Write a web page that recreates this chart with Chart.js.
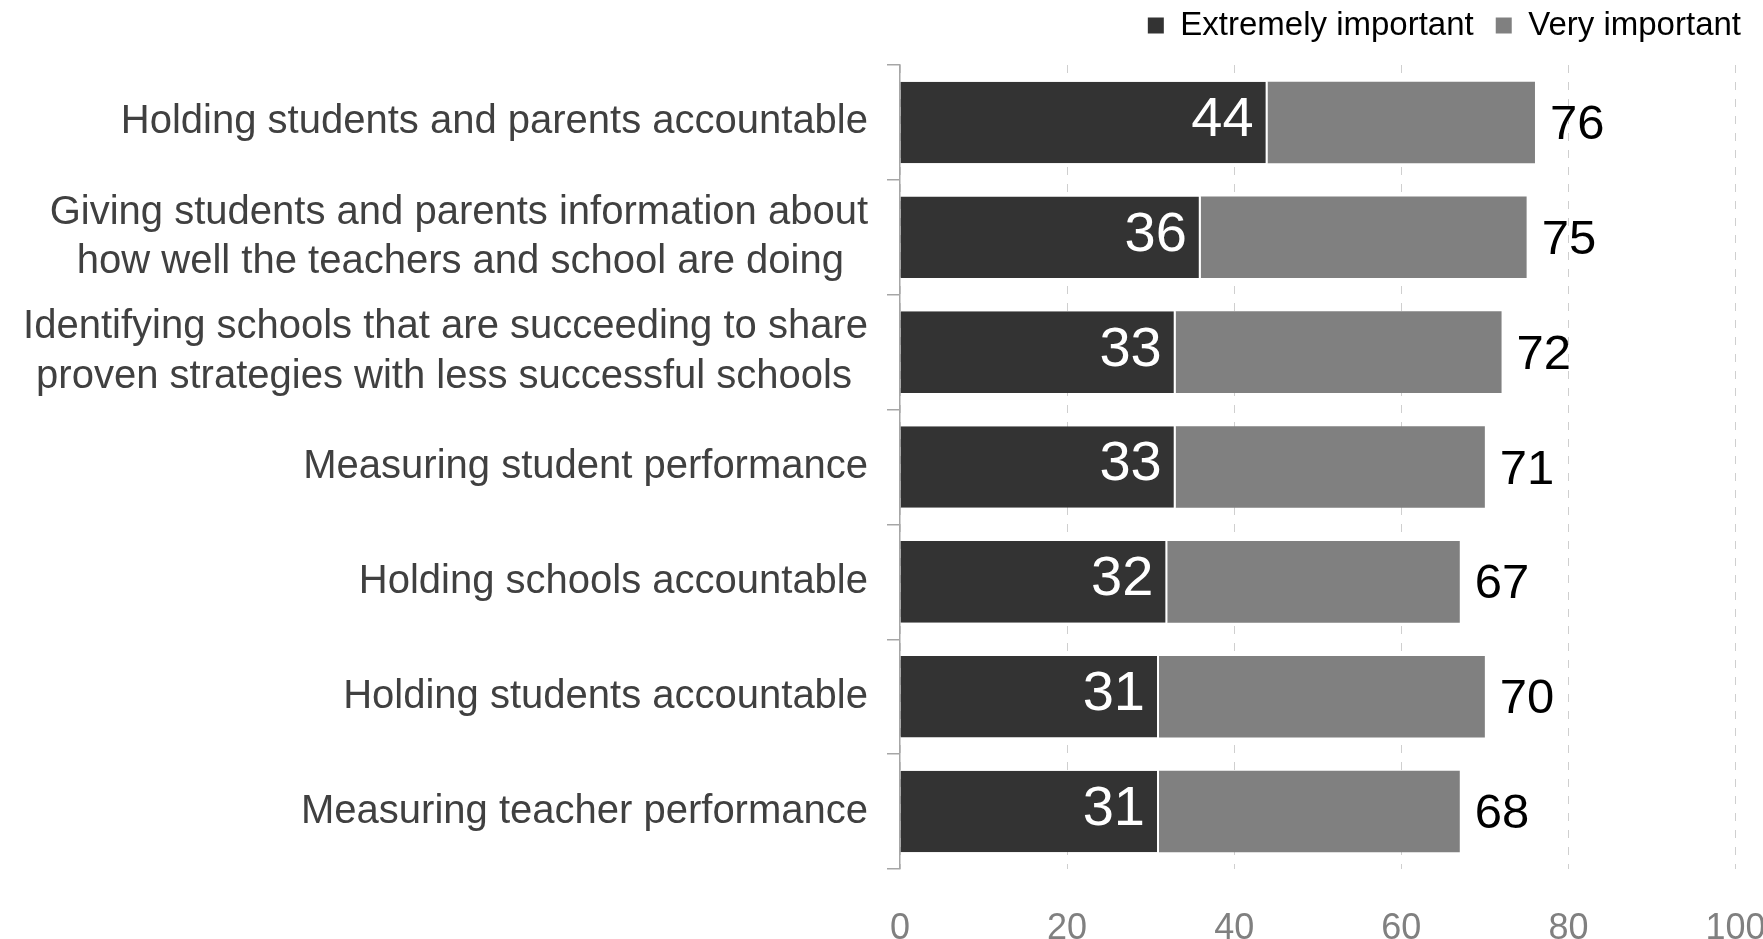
<!DOCTYPE html>
<html><head><meta charset="utf-8">
<script src="https://cdn.jsdelivr.net/npm/chart.js@4.4.0/dist/chart.umd.min.js"></script>
<style>html,body{margin:0;padding:0;background:#fff;overflow:hidden}#wrap{width:1763px;height:939px;position:relative}</style>
</head><body><div id="wrap"><canvas id="c"></canvas></div>
<script>
const categories = [
  "Holding students and parents accountable",
  ["Giving students and parents information about", "how well the teachers and school are doing"],
  ["Identifying schools that are succeeding to share", "proven strategies with less successful schools"],
  "Measuring student performance",
  "Holding schools accountable",
  "Holding students accountable",
  "Measuring teacher performance"
];
const seriesNames = ["Extremely important", "Very important"];
const extremelyImportant = [44, 36, 33, 33, 32, 31, 31];
const veryImportant = [32, 39, 39, 37, 35, 39, 36];
const totalLabels = [76, 75, 72, 71, 67, 70, 68];
const xTickValues = [0, 20, 40, 60, 80, 100];

const FAMILY = '"Liberation Sans", Arial, Helvetica, sans-serif';
const CAT_SIZE = 40;

const measureCtx = document.createElement('canvas').getContext('2d');
function centerLines(lbl) {
  if (!Array.isArray(lbl)) return lbl;
  measureCtx.font = CAT_SIZE + 'px ' + FAMILY;
  const widths = lbl.map(s => measureCtx.measureText(s).width);
  const maxW = Math.max(...widths);
  let pad = '\u2009';
  let sp = measureCtx.measureText(pad).width;
  if (!(sp > 0.5)) { pad = ' '; sp = measureCtx.measureText(pad).width; }
  return lbl.map((s, i) => {
    const n = Math.round((maxW - widths[i]) / 2 / sp);
    return s + pad.repeat(Math.max(0, Math.min(n, 40)));
  });
}

const valueLabels = {
  id: 'valueLabels',
  afterDatasetsDraw(chart) {
    const ctx = chart.ctx;
    const m0 = chart.getDatasetMeta(0), m1 = chart.getDatasetMeta(1);
    ctx.save();
    ctx.textBaseline = 'middle';
    ctx.font = '56px ' + FAMILY;
    ctx.fillStyle = '#ffffff';
    ctx.textAlign = 'right';
    m0.data.forEach((bar, i) => ctx.fillText(String(extremelyImportant[i]), bar.x - 14, bar.y - 2));
    ctx.font = '49px ' + FAMILY;
    ctx.fillStyle = '#000000';
    ctx.textAlign = 'left';
    m1.data.forEach((bar, i) => ctx.fillText(String(totalLabels[i]), bar.x + 15, bar.y + 3));
    ctx.restore();
  }
};

const legendShift = {
  id: 'legendShift',
  afterLayout(chart) {
    if (chart.legend) { chart.legend.top -= 13; chart.legend.bottom -= 13; }
  }
};

new Chart(document.getElementById('c'), {
  type: 'bar',
  data: {
    labels: categories,
    datasets: [
      {
        label: seriesNames[0],
        data: extremelyImportant,
        backgroundColor: '#333333',
        borderColor: '#ffffff',
        borderWidth: {top: 0, right: 2, bottom: 0, left: 0},
        borderSkipped: false,
        barPercentage: 0.71,
        categoryPercentage: 1.0
      },
      {
        label: seriesNames[1],
        data: veryImportant,
        backgroundColor: '#808080',
        borderWidth: 0,
        barPercentage: 0.71,
        categoryPercentage: 1.0
      }
    ]
  },
  options: {
    indexAxis: 'y',
    responsive: true,
    maintainAspectRatio: false,
    animation: false,
    layout: {padding: {top: 0, right: 0, bottom: 0, left: 0}},
    plugins: {
      legend: {
        position: 'top',
        align: 'end',
        labels: {
          boxWidth: 16,
          boxHeight: 16,
          padding: 22,
          color: '#000000',
          font: {size: 33, family: FAMILY},
          generateLabels(chart) {
            return chart.data.datasets.map((ds, i) => ({
              text: ds.label,
              fillStyle: ds.backgroundColor,
              strokeStyle: ds.backgroundColor,
              lineWidth: 0,
              hidden: false,
              datasetIndex: i
            }));
          }
        }
      },
      tooltip: {enabled: false}
    },
    scales: {
      x: {
        stacked: true,
        min: 0,
        max: 100,
        afterBuildTicks(scale) { scale.ticks = xTickValues.map(v => ({value: v})); },
        grid: {color: '#cfcfcf', lineWidth: 1, drawTicks: false},
        border: {display: false, dash: [8, 9]},
        ticks: {font: {size: 36, family: FAMILY}, color: '#808080', padding: 38},
        afterFit(s) { s.height = 70; s.paddingLeft = 0; s.paddingRight = 27.5; }
      },
      y: {
        stacked: true,
        grid: {display: true, drawOnChartArea: false, drawTicks: true, tickLength: 13, color: '#a6a6a6', lineWidth: 1.5, offset: true},
        border: {display: true, color: '#a6a6a6', width: 1.5},
        ticks: {
          font: {size: CAT_SIZE, family: FAMILY, lineHeight: 1.24},
          color: '#404040',
          padding: 19,
          autoSkip: false,
          callback(value) { return centerLines(this.getLabelForValue(value)); }
        },
        afterFit(s) { s.width = 900; s.paddingTop = 0; s.paddingBottom = 0; }
      }
    }
  },
  plugins: [valueLabels, legendShift]
});
</script>
</body></html>
